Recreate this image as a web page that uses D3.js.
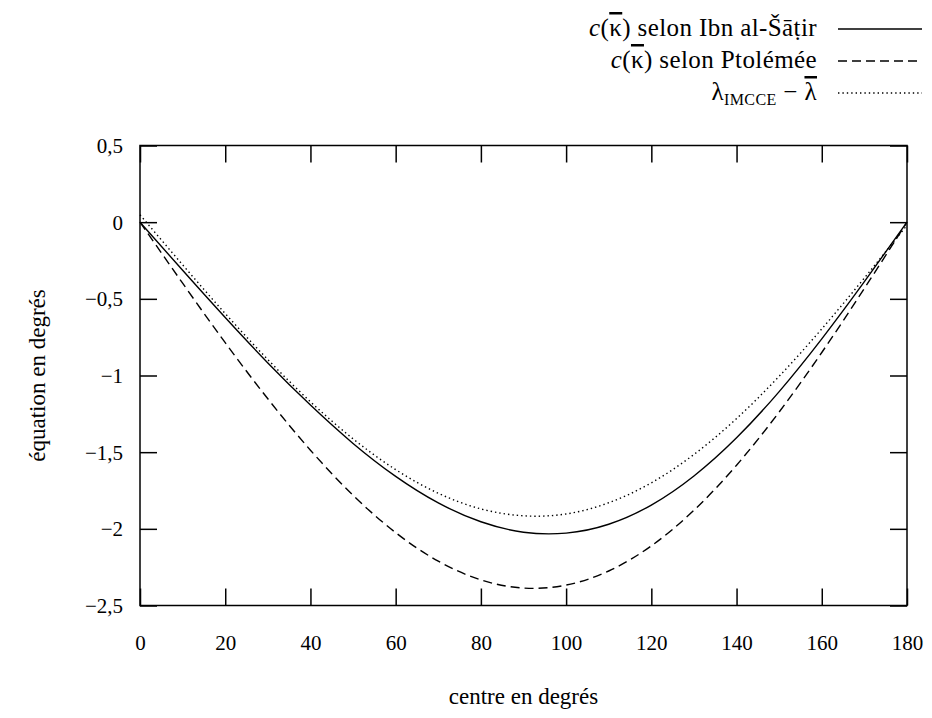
<!DOCTYPE html>
<html>
<head>
<meta charset="utf-8">
<script src="https://cdn.jsdelivr.net/npm/d3@7"></script>
<style>
  html, body { margin: 0; padding: 0; background: #fff; }
  svg { display: block; }
  text { font-family: "Liberation Serif", "Times New Roman", Tinos, "DejaVu Serif", "Noto Serif", serif; fill: #000; }
  .ovl { text-decoration: overline; }
</style>
</head>
<body>
<svg id="chart" width="932" height="718"></svg>
<script>
// ---- data ----
const kappa = [0, 10, 20, 30, 40, 50, 60, 70, 80, 90, 100, 110, 120, 130, 140, 150, 160, 170, 180];
const ibnShatir = [0, -0.314, -0.622, -0.918, -1.193, -1.443, -1.658, -1.831, -1.954, -2.022, -2.028, -1.970, -1.845, -1.655, -1.406, -1.105, -0.761, -0.388, 0];
const ptolemy = [0, -0.398, -0.786, -1.152, -1.487, -1.781, -2.025, -2.211, -2.333, -2.386, -2.367, -2.275, -2.111, -1.879, -1.585, -1.238, -0.850, -0.432, 0];
const imcce = [0.048, -0.278, -0.596, -0.896, -1.171, -1.413, -1.614, -1.768, -1.870, -1.915, -1.903, -1.830, -1.700, -1.515, -1.281, -1.005, -0.696, -0.364, -0.020];
const xTicks = [0, 20, 40, 60, 80, 100, 120, 140, 160, 180];
const yTicks = [0.5, 0, -0.5, -1, -1.5, -2, -2.5];
const xTitle = "centre en degrés";
const yTitle = "équation en degrés";

const svg = d3.select("#chart");
const pLeft = 140, pRight = 907, pTop = 145.5, pBottom = 605.5;
const x = d3.scaleLinear().domain([0, 180]).range([pLeft, pRight]);
const y = d3.scaleLinear().domain([-2.5, 0.5]).range([pBottom, pTop]);
const loc = d3.formatLocale({decimal: ",", thousands: " ", grouping: [3], currency: ["", ""], minus: "\u2212"});
const fmt = loc.format("");
const tickLen = 17;
const fs = 21;
const FONT = '"Liberation Serif", "Times New Roman", Tinos, "DejaVu Serif", "Noto Serif", serif';

// ticks (inward, on all four sides)
const axB = svg.append("g").attr("transform", `translate(0,${pBottom})`)
  .call(d3.axisBottom(x).tickValues(xTicks).tickSize(-tickLen).tickPadding(44).tickFormat(d => fmt(d)));
const axT = svg.append("g").attr("transform", `translate(0,${pTop})`)
  .call(d3.axisTop(x).tickValues(xTicks).tickSize(-tickLen).tickFormat(""));
const axL = svg.append("g").attr("transform", `translate(${pLeft},0)`)
  .call(d3.axisLeft(y).tickValues(yTicks).tickSize(-tickLen).tickPadding(17).tickFormat(d => fmt(d)));
const axR = svg.append("g").attr("transform", `translate(${pRight},0)`)
  .call(d3.axisRight(y).tickValues(yTicks).tickSize(-tickLen).tickFormat(""));
[axB, axT, axL, axR].forEach(a => {
  a.attr("font-family", null).attr("font-size", null);
  a.select(".domain").remove();
  a.selectAll(".tick line").attr("stroke", "#000").attr("stroke-width", 1.5);
  a.selectAll(".tick text").style("font-family", FONT).attr("font-size", fs).attr("fill", "#000");
});
axL.selectAll(".tick text").attr("dy", "0.34em");
axB.selectAll(".tick text").attr("dy", "0");

// frame
svg.append("rect").attr("x", pLeft).attr("y", pTop).attr("width", pRight - pLeft).attr("height", pBottom - pTop)
  .attr("fill", "none").attr("stroke", "#000").attr("stroke-width", 1.5);

// curves
const line = d3.line().x((d, i) => x(kappa[i])).y(d => y(d)).curve(d3.curveNatural);
const series = [
  {vals: ibnShatir, dash: null},
  {vals: ptolemy, dash: "9 5"},
  {vals: imcce, dash: "1.4 3"}
];
series.forEach(s => {
  svg.append("path").attr("d", line(s.vals)).attr("fill", "none").attr("stroke", "#000")
    .attr("stroke-width", 1.4).attr("stroke-dasharray", s.dash);
});

// axis titles
const tfs = 23;
svg.append("text").attr("x", (pLeft + pRight) / 2).attr("y", 704).attr("text-anchor", "middle")
  .style("font-family", FONT).attr("font-size", tfs).text(xTitle);
svg.append("text").attr("transform", `translate(45,${(pTop + pBottom) / 2}) rotate(-90)`)
  .attr("text-anchor", "middle").style("font-family", FONT).attr("font-size", tfs).text(yTitle);

// legend
const legY = [29, 61, 93];
const legTextX = 817, legL1 = 838, legL2 = 922;
function legendRow(i, dash, build) {
  const t = svg.append("text").attr("x", legTextX).attr("y", legY[i] + 7).attr("text-anchor", "end")
    .style("font-family", FONT).style("letter-spacing", "0.4px").attr("font-size", 25);
  build(t);
  svg.append("line").attr("x1", legL1).attr("x2", legL2).attr("y1", legY[i]).attr("y2", legY[i])
    .attr("stroke", "#000").attr("stroke-width", 1.4).attr("stroke-dasharray", dash);
}
legendRow(0, null, t => {
  t.append("tspan").attr("font-style", "italic").text("c");
  t.append("tspan").text("(");
  t.append("tspan").attr("class", "ovl").text("\u03BA");
  t.append("tspan").text(") selon Ibn al-\u0160\u0101\u1E6Dir");
});
legendRow(1, "9 5", t => {
  t.append("tspan").attr("font-style", "italic").text("c");
  t.append("tspan").text("(");
  t.append("tspan").attr("class", "ovl").text("\u03BA");
  t.append("tspan").text(") selon Ptolémée");
});
legendRow(2, "1.4 3", t => {
  t.append("tspan").text("\u03BB");
  t.append("tspan").attr("font-size", 16).attr("dy", 5).text("IMCCE");
  t.append("tspan").attr("dy", -5).text(" \u2212 ");
  t.append("tspan").attr("class", "ovl").text("\u03BB");
});
</script>
</body>
</html>
